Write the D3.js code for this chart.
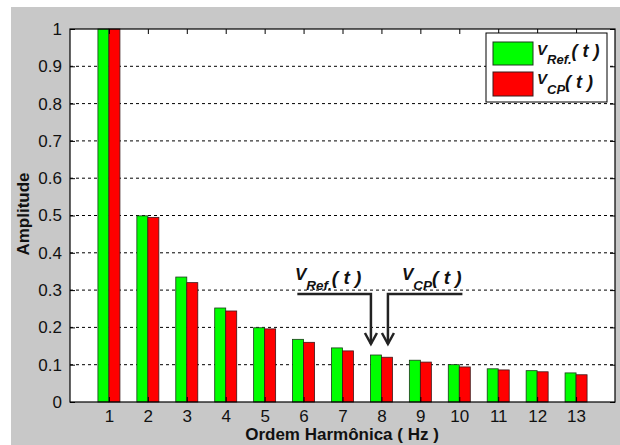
<!DOCTYPE html>
<html>
<head>
<meta charset="utf-8">
<script src="https://cdn.jsdelivr.net/npm/d3@7"></script>
<style>
    body { margin: 0; background: #fff; }
    svg { display: block; font-family: "Liberation Sans", Arial, sans-serif; }
</style>
</head>
<body>
<div id="chart"></div>
<script>
const harmonics = [1, 2, 3, 4, 5, 6, 7, 8, 9, 10, 11, 12, 13];
const vRef = [1, 0.499, 0.335, 0.252, 0.199, 0.168, 0.145, 0.126, 0.112, 0.100, 0.089, 0.084, 0.078];
const vCp = [1, 0.495, 0.320, 0.244, 0.196, 0.160, 0.137, 0.120, 0.107, 0.094, 0.086, 0.081, 0.073];
const yTicks = [0, 0.1, 0.2, 0.3, 0.4, 0.5, 0.6, 0.7, 0.8, 0.9, 1];

const W = 620, H = 445;
const plot = { left: 70, top: 29, right: 615, bottom: 402 };

const svg = d3.select("#chart").append("svg")
    .attr("width", W)
    .attr("height", H);

// grey figure background
svg.append("rect")
    .attr("x", 11).attr("y", 7)
    .attr("width", W - 11).attr("height", H - 7)
    .attr("fill", "#c8c8c8");

svg.append("rect")
    .attr("x", plot.left).attr("y", plot.top)
    .attr("width", plot.right - plot.left).attr("height", plot.bottom - plot.top)
    .attr("fill", "#fff");

const x = d3.scaleLinear().domain([0, 14]).range([plot.left, plot.right]);
const y = d3.scaleLinear().domain([0, 1]).range([plot.bottom, plot.top]);
const barW = 11;

// grid
svg.append("g")
    .selectAll("line")
    .data(yTicks.filter(d => d > 0 && d < 1))
    .join("line")
    .attr("x1", plot.left).attr("x2", plot.right)
    .attr("y1", d => y(d)).attr("y2", d => y(d))
    .attr("stroke", "#000")
    .attr("stroke-width", 1)
    .attr("stroke-dasharray", "3,3");

// bars
const bars = svg.append("g");
bars.selectAll("rect.ref")
    .data(harmonics)
    .join("rect")
    .attr("class", "ref")
    .attr("x", (d, i) => x(d) - barW)
    .attr("y", (d, i) => y(vRef[i]))
    .attr("width", barW)
    .attr("height", (d, i) => y(0) - y(vRef[i]))
    .attr("fill", "#00ff00")
    .attr("stroke", "#1a3a1a")
    .attr("stroke-width", 0.8);

bars.selectAll("rect.cp")
    .data(harmonics)
    .join("rect")
    .attr("class", "cp")
    .attr("x", d => x(d))
    .attr("y", (d, i) => y(vCp[i]))
    .attr("width", barW)
    .attr("height", (d, i) => y(0) - y(vCp[i]))
    .attr("fill", "#ff0000")
    .attr("stroke", "#3a1a1a")
    .attr("stroke-width", 0.8);

// axes
const axisLeft = d3.axisLeft(y).tickValues(yTicks).tickSize(-5).tickPadding(8)
    .tickFormat(d => d3.format("")(+d.toFixed(1)));
svg.append("g")
    .attr("transform", `translate(${plot.left},0)`)
    .call(axisLeft);

const axisBottom = d3.axisBottom(x).tickValues(harmonics).tickSize(-5).tickPadding(8);
svg.append("g")
    .attr("transform", `translate(0,${plot.bottom})`)
    .call(axisBottom);

// top and right ticks
svg.append("g")
    .attr("transform", `translate(0,${plot.top})`)
    .call(d3.axisTop(x).tickValues(harmonics).tickSize(-5).tickFormat(""));
svg.append("g")
    .attr("transform", `translate(${plot.right},0)`)
    .call(d3.axisRight(y).tickValues(yTicks).tickSize(-5).tickFormat(""));

svg.selectAll(".domain").remove();
svg.selectAll(".tick line").attr("stroke", "#000");
svg.selectAll(".tick text")
    .attr("font-size", 17)
    .attr("font-family", "'Liberation Sans', Arial, sans-serif")
    .attr("fill", "#111");

svg.append("rect")
    .attr("x", plot.left).attr("y", plot.top)
    .attr("width", plot.right - plot.left).attr("height", plot.bottom - plot.top)
    .attr("fill", "none")
    .attr("stroke", "#000")
    .attr("stroke-width", 1.2);

// axis labels
svg.append("text")
    .attr("transform", "translate(29,214) rotate(-90)")
    .attr("text-anchor", "middle")
    .attr("font-size", 17)
    .attr("font-weight", "bold")
    .attr("fill", "#111")
    .text("Amplitude");

svg.append("text")
    .attr("x", 342).attr("y", 440)
    .attr("text-anchor", "middle")
    .attr("font-size", 17)
    .attr("font-weight", "bold")
    .attr("fill", "#111")
    .text("Ordem Harmônica ( Hz )");

// V label with subscript, then a bigger raised "( t )"
function vLabel(g, sub, px, py, vSize, subSize, tSize, subDy, tDy) {
    const t = g.append("text")
        .attr("x", px).attr("y", py)
        .attr("font-style", "italic")
        .attr("font-weight", "bold")
        .attr("fill", "#111");
    t.append("tspan").attr("font-size", vSize).text("V");
    t.append("tspan").attr("dy", subDy).attr("font-size", subSize).text(sub);
    t.append("tspan").attr("dy", tDy).attr("font-size", tSize).text("( t )");
}

// legend
const legend = svg.append("g");
legend.append("rect")
    .attr("x", 486).attr("y", 33)
    .attr("width", 121).attr("height", 69)
    .attr("fill", "#fff")
    .attr("stroke", "#000")
    .attr("stroke-width", 1);
legend.append("rect")
    .attr("x", 493).attr("y", 42).attr("width", 40).attr("height", 23)
    .attr("fill", "#00ff00").attr("stroke", "#1a3a1a");
legend.append("rect")
    .attr("x", 493).attr("y", 72).attr("width", 40).attr("height", 24)
    .attr("fill", "#ff0000").attr("stroke", "#3a1a1a");
vLabel(legend, "Ref.", 537, 54.5, 15, 13, 18, 9.5, -7);
vLabel(legend, "CP", 537, 84, 15, 13, 18, 9.5, -6);

// annotation arrows
const note = svg.append("g");
vLabel(note, "Ref.", 295, 280, 17, 13.5, 19, 10, -6);
vLabel(note, "CP", 402, 280, 17, 13.5, 19, 10, -6);

const arrowY = 294, tipY = 344;
const refX = x(8) - 10.5, cpX = x(8) + 6.5;
note.append("path")
    .attr("d", `M${x(5.84)},${arrowY} H${refX} V${tipY}`)
    .attr("fill", "none").attr("stroke", "#222").attr("stroke-width", 2.5);
note.append("path")
    .attr("d", `M${x(10.08)},${arrowY} H${cpX} V${tipY}`)
    .attr("fill", "none").attr("stroke", "#222").attr("stroke-width", 2.5);
[refX, cpX].forEach(ax => {
    note.append("path")
        .attr("d", `M${ax - 6},${tipY - 11} L${ax},${tipY} L${ax + 6},${tipY - 11}`)
        .attr("fill", "none").attr("stroke", "#222").attr("stroke-width", 2.5);
});
</script>
</body>
</html>
